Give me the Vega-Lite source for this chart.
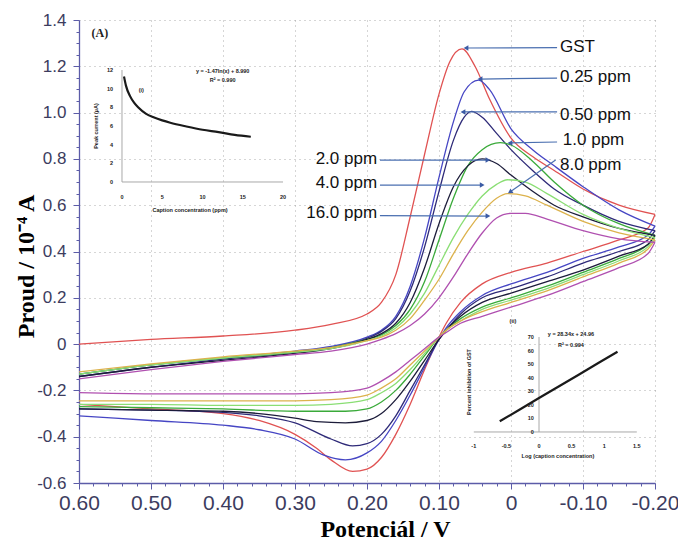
{
"$schema": "https://vega.github.io/schema/vega-lite/v6.json",
"width": 576, "height": 463,
"autosize": {"type": "none"},
"padding": {"left": 79, "top": 20, "right": 23, "bottom": 61},
"background": "white",
"config": {"view": {"stroke": null}, "font": "Liberation Sans"},
"datasets": {
"cv": [
{"s":"GST","b":"f","v":0.6,"i":0.0},{"s":"GST","b":"f","v":0.5,"i":0.02},{"s":"GST","b":"f","v":0.4,"i":0.035},{"s":"GST","b":"f","v":0.3,"i":0.06},{"s":"GST","b":"f","v":0.25,"i":0.085},{"s":"GST","b":"f","v":0.2,"i":0.13},{"s":"GST","b":"f","v":0.18,"i":0.18},{"s":"GST","b":"f","v":0.16,"i":0.3},{"s":"GST","b":"f","v":0.14,"i":0.55},{"s":"GST","b":"f","v":0.12,"i":0.82},{"s":"GST","b":"f","v":0.1,"i":1.08},{"s":"GST","b":"f","v":0.085,"i":1.22},{"s":"GST","b":"f","v":0.068,"i":1.275},{"s":"GST","b":"f","v":0.05,"i":1.2},{"s":"GST","b":"f","v":0.03,"i":1.06},{"s":"GST","b":"f","v":0.0,"i":0.89},{"s":"GST","b":"f","v":-0.03,"i":0.81},{"s":"GST","b":"f","v":-0.06,"i":0.75},{"s":"GST","b":"f","v":-0.1,"i":0.67},{"s":"GST","b":"f","v":-0.15,"i":0.6},{"s":"GST","b":"f","v":-0.2,"i":0.56},
{"s":"GST","b":"r","v":-0.2,"i":0.56},{"s":"GST","b":"r","v":-0.19,"i":0.5},{"s":"GST","b":"r","v":-0.15,"i":0.45},{"s":"GST","b":"r","v":-0.1,"i":0.4},{"s":"GST","b":"r","v":-0.05,"i":0.35},{"s":"GST","b":"r","v":0.0,"i":0.31},{"s":"GST","b":"r","v":0.04,"i":0.26},{"s":"GST","b":"r","v":0.07,"i":0.18},{"s":"GST","b":"r","v":0.09,"i":0.09},{"s":"GST","b":"r","v":0.1,"i":0.03},{"s":"GST","b":"r","v":0.12,"i":-0.11},{"s":"GST","b":"r","v":0.14,"i":-0.26},{"s":"GST","b":"r","v":0.16,"i":-0.39},{"s":"GST","b":"r","v":0.18,"i":-0.49},{"s":"GST","b":"r","v":0.2,"i":-0.54},{"s":"GST","b":"r","v":0.22,"i":-0.55},{"s":"GST","b":"r","v":0.25,"i":-0.5},{"s":"GST","b":"r","v":0.27,"i":-0.45},{"s":"GST","b":"r","v":0.3,"i":-0.39},{"s":"GST","b":"r","v":0.35,"i":-0.33},{"s":"GST","b":"r","v":0.4,"i":-0.3},{"s":"GST","b":"r","v":0.5,"i":-0.28},{"s":"GST","b":"r","v":0.6,"i":-0.26},
{"s":"0.25","b":"f","v":0.6,"i":-0.13},{"s":"0.25","b":"f","v":0.5,"i":-0.09},{"s":"0.25","b":"f","v":0.4,"i":-0.06},{"s":"0.25","b":"f","v":0.3,"i":-0.03},{"s":"0.25","b":"f","v":0.25,"i":-0.01},{"s":"0.25","b":"f","v":0.2,"i":0.03},{"s":"0.25","b":"f","v":0.18,"i":0.06},{"s":"0.25","b":"f","v":0.16,"i":0.12},{"s":"0.25","b":"f","v":0.14,"i":0.25},{"s":"0.25","b":"f","v":0.12,"i":0.46},{"s":"0.25","b":"f","v":0.1,"i":0.72},{"s":"0.25","b":"f","v":0.08,"i":0.96},{"s":"0.25","b":"f","v":0.065,"i":1.09},{"s":"0.25","b":"f","v":0.045,"i":1.14},{"s":"0.25","b":"f","v":0.03,"i":1.1},{"s":"0.25","b":"f","v":0.0,"i":0.93},{"s":"0.25","b":"f","v":-0.03,"i":0.84},{"s":"0.25","b":"f","v":-0.06,"i":0.77},{"s":"0.25","b":"f","v":-0.1,"i":0.68},{"s":"0.25","b":"f","v":-0.15,"i":0.58},{"s":"0.25","b":"f","v":-0.2,"i":0.51},
{"s":"0.25","b":"r","v":-0.2,"i":0.51},{"s":"0.25","b":"r","v":-0.19,"i":0.47},{"s":"0.25","b":"r","v":-0.15,"i":0.42},{"s":"0.25","b":"r","v":-0.1,"i":0.37},{"s":"0.25","b":"r","v":-0.05,"i":0.31},{"s":"0.25","b":"r","v":0.0,"i":0.26},{"s":"0.25","b":"r","v":0.04,"i":0.21},{"s":"0.25","b":"r","v":0.07,"i":0.14},{"s":"0.25","b":"r","v":0.09,"i":0.07},{"s":"0.25","b":"r","v":0.1,"i":0.02},{"s":"0.25","b":"r","v":0.12,"i":-0.1},{"s":"0.25","b":"r","v":0.14,"i":-0.22},{"s":"0.25","b":"r","v":0.16,"i":-0.33},{"s":"0.25","b":"r","v":0.18,"i":-0.42},{"s":"0.25","b":"r","v":0.2,"i":-0.47},{"s":"0.25","b":"r","v":0.23,"i":-0.5},{"s":"0.25","b":"r","v":0.26,"i":-0.48},{"s":"0.25","b":"r","v":0.3,"i":-0.41},{"s":"0.25","b":"r","v":0.35,"i":-0.37},{"s":"0.25","b":"r","v":0.4,"i":-0.35},{"s":"0.25","b":"r","v":0.5,"i":-0.33},{"s":"0.25","b":"r","v":0.6,"i":-0.31},
{"s":"0.50","b":"f","v":0.6,"i":-0.14},{"s":"0.50","b":"f","v":0.5,"i":-0.1},{"s":"0.50","b":"f","v":0.4,"i":-0.065},{"s":"0.50","b":"f","v":0.3,"i":-0.035},{"s":"0.50","b":"f","v":0.25,"i":-0.015},{"s":"0.50","b":"f","v":0.2,"i":0.025},{"s":"0.50","b":"f","v":0.18,"i":0.055},{"s":"0.50","b":"f","v":0.16,"i":0.11},{"s":"0.50","b":"f","v":0.14,"i":0.23},{"s":"0.50","b":"f","v":0.12,"i":0.42},{"s":"0.50","b":"f","v":0.1,"i":0.66},{"s":"0.50","b":"f","v":0.08,"i":0.88},{"s":"0.50","b":"f","v":0.065,"i":0.98},{"s":"0.50","b":"f","v":0.055,"i":1.005},{"s":"0.50","b":"f","v":0.04,"i":0.98},{"s":"0.50","b":"f","v":0.02,"i":0.91},{"s":"0.50","b":"f","v":0.0,"i":0.84},{"s":"0.50","b":"f","v":-0.03,"i":0.75},{"s":"0.50","b":"f","v":-0.06,"i":0.67},{"s":"0.50","b":"f","v":-0.1,"i":0.6},{"s":"0.50","b":"f","v":-0.15,"i":0.53},{"s":"0.50","b":"f","v":-0.2,"i":0.49},
{"s":"0.50","b":"r","v":-0.2,"i":0.49},{"s":"0.50","b":"r","v":-0.19,"i":0.45},{"s":"0.50","b":"r","v":-0.15,"i":0.4},{"s":"0.50","b":"r","v":-0.1,"i":0.35},{"s":"0.50","b":"r","v":-0.05,"i":0.29},{"s":"0.50","b":"r","v":0.0,"i":0.24},{"s":"0.50","b":"r","v":0.04,"i":0.2},{"s":"0.50","b":"r","v":0.07,"i":0.13},{"s":"0.50","b":"r","v":0.09,"i":0.06},{"s":"0.50","b":"r","v":0.1,"i":0.02},{"s":"0.50","b":"r","v":0.12,"i":-0.09},{"s":"0.50","b":"r","v":0.14,"i":-0.2},{"s":"0.50","b":"r","v":0.16,"i":-0.31},{"s":"0.50","b":"r","v":0.18,"i":-0.39},{"s":"0.50","b":"r","v":0.2,"i":-0.43},{"s":"0.50","b":"r","v":0.22,"i":-0.44},{"s":"0.50","b":"r","v":0.25,"i":-0.41},{"s":"0.50","b":"r","v":0.3,"i":-0.34},{"s":"0.50","b":"r","v":0.35,"i":-0.31},{"s":"0.50","b":"r","v":0.4,"i":-0.295},{"s":"0.50","b":"r","v":0.5,"i":-0.285},{"s":"0.50","b":"r","v":0.6,"i":-0.28},
{"s":"1.0","b":"f","v":0.6,"i":-0.13},{"s":"1.0","b":"f","v":0.5,"i":-0.09},{"s":"1.0","b":"f","v":0.4,"i":-0.06},{"s":"1.0","b":"f","v":0.3,"i":-0.035},{"s":"1.0","b":"f","v":0.25,"i":-0.015},{"s":"1.0","b":"f","v":0.2,"i":0.02},{"s":"1.0","b":"f","v":0.18,"i":0.04},{"s":"1.0","b":"f","v":0.16,"i":0.08},{"s":"1.0","b":"f","v":0.14,"i":0.15},{"s":"1.0","b":"f","v":0.12,"i":0.27},{"s":"1.0","b":"f","v":0.1,"i":0.45},{"s":"1.0","b":"f","v":0.08,"i":0.63},{"s":"1.0","b":"f","v":0.06,"i":0.77},{"s":"1.0","b":"f","v":0.04,"i":0.84},{"s":"1.0","b":"f","v":0.015,"i":0.87},{"s":"1.0","b":"f","v":0.0,"i":0.86},{"s":"1.0","b":"f","v":-0.03,"i":0.79},{"s":"1.0","b":"f","v":-0.06,"i":0.7},{"s":"1.0","b":"f","v":-0.1,"i":0.6},{"s":"1.0","b":"f","v":-0.15,"i":0.52},{"s":"1.0","b":"f","v":-0.2,"i":0.47},
{"s":"1.0","b":"r","v":-0.2,"i":0.47},{"s":"1.0","b":"r","v":-0.19,"i":0.43},{"s":"1.0","b":"r","v":-0.15,"i":0.37},{"s":"1.0","b":"r","v":-0.1,"i":0.31},{"s":"1.0","b":"r","v":-0.05,"i":0.25},{"s":"1.0","b":"r","v":0.0,"i":0.2},{"s":"1.0","b":"r","v":0.04,"i":0.16},{"s":"1.0","b":"r","v":0.07,"i":0.11},{"s":"1.0","b":"r","v":0.09,"i":0.06},{"s":"1.0","b":"r","v":0.1,"i":0.03},{"s":"1.0","b":"r","v":0.12,"i":-0.05},{"s":"1.0","b":"r","v":0.14,"i":-0.13},{"s":"1.0","b":"r","v":0.16,"i":-0.2},{"s":"1.0","b":"r","v":0.18,"i":-0.25},{"s":"1.0","b":"r","v":0.2,"i":-0.28},{"s":"1.0","b":"r","v":0.23,"i":-0.29},{"s":"1.0","b":"r","v":0.3,"i":-0.29},{"s":"1.0","b":"r","v":0.4,"i":-0.28},{"s":"1.0","b":"r","v":0.5,"i":-0.275},{"s":"1.0","b":"r","v":0.6,"i":-0.27},
{"s":"2.0","b":"f","v":0.6,"i":-0.14},{"s":"2.0","b":"f","v":0.5,"i":-0.1},{"s":"2.0","b":"f","v":0.4,"i":-0.07},{"s":"2.0","b":"f","v":0.3,"i":-0.04},{"s":"2.0","b":"f","v":0.25,"i":-0.02},{"s":"2.0","b":"f","v":0.2,"i":0.02},{"s":"2.0","b":"f","v":0.18,"i":0.045},{"s":"2.0","b":"f","v":0.16,"i":0.09},{"s":"2.0","b":"f","v":0.14,"i":0.18},{"s":"2.0","b":"f","v":0.12,"i":0.33},{"s":"2.0","b":"f","v":0.1,"i":0.52},{"s":"2.0","b":"f","v":0.08,"i":0.68},{"s":"2.0","b":"f","v":0.06,"i":0.77},{"s":"2.0","b":"f","v":0.04,"i":0.8},{"s":"2.0","b":"f","v":0.02,"i":0.78},{"s":"2.0","b":"f","v":0.0,"i":0.73},{"s":"2.0","b":"f","v":-0.03,"i":0.66},{"s":"2.0","b":"f","v":-0.06,"i":0.6},{"s":"2.0","b":"f","v":-0.1,"i":0.55},{"s":"2.0","b":"f","v":-0.15,"i":0.5},{"s":"2.0","b":"f","v":-0.2,"i":0.47},
{"s":"2.0","b":"r","v":-0.2,"i":0.47},{"s":"2.0","b":"r","v":-0.19,"i":0.43},{"s":"2.0","b":"r","v":-0.15,"i":0.38},{"s":"2.0","b":"r","v":-0.1,"i":0.32},{"s":"2.0","b":"r","v":-0.05,"i":0.27},{"s":"2.0","b":"r","v":0.0,"i":0.22},{"s":"2.0","b":"r","v":0.04,"i":0.18},{"s":"2.0","b":"r","v":0.07,"i":0.12},{"s":"2.0","b":"r","v":0.09,"i":0.06},{"s":"2.0","b":"r","v":0.1,"i":0.02},{"s":"2.0","b":"r","v":0.12,"i":-0.07},{"s":"2.0","b":"r","v":0.14,"i":-0.16},{"s":"2.0","b":"r","v":0.16,"i":-0.24},{"s":"2.0","b":"r","v":0.18,"i":-0.3},{"s":"2.0","b":"r","v":0.2,"i":-0.33},{"s":"2.0","b":"r","v":0.23,"i":-0.34},{"s":"2.0","b":"r","v":0.27,"i":-0.335},{"s":"2.0","b":"r","v":0.3,"i":-0.32},{"s":"2.0","b":"r","v":0.35,"i":-0.3},{"s":"2.0","b":"r","v":0.4,"i":-0.29},{"s":"2.0","b":"r","v":0.5,"i":-0.285},{"s":"2.0","b":"r","v":0.6,"i":-0.28},
{"s":"4.0","b":"f","v":0.6,"i":-0.13},{"s":"4.0","b":"f","v":0.5,"i":-0.09},{"s":"4.0","b":"f","v":0.4,"i":-0.06},{"s":"4.0","b":"f","v":0.3,"i":-0.035},{"s":"4.0","b":"f","v":0.25,"i":-0.02},{"s":"4.0","b":"f","v":0.2,"i":0.015},{"s":"4.0","b":"f","v":0.18,"i":0.035},{"s":"4.0","b":"f","v":0.16,"i":0.07},{"s":"4.0","b":"f","v":0.14,"i":0.13},{"s":"4.0","b":"f","v":0.12,"i":0.22},{"s":"4.0","b":"f","v":0.1,"i":0.34},{"s":"4.0","b":"f","v":0.08,"i":0.46},{"s":"4.0","b":"f","v":0.06,"i":0.56},{"s":"4.0","b":"f","v":0.04,"i":0.64},{"s":"4.0","b":"f","v":0.02,"i":0.69},{"s":"4.0","b":"f","v":0.005,"i":0.71},{"s":"4.0","b":"f","v":-0.02,"i":0.7},{"s":"4.0","b":"f","v":-0.05,"i":0.65},{"s":"4.0","b":"f","v":-0.1,"i":0.56},{"s":"4.0","b":"f","v":-0.15,"i":0.5},{"s":"4.0","b":"f","v":-0.2,"i":0.46},
{"s":"4.0","b":"r","v":-0.2,"i":0.46},{"s":"4.0","b":"r","v":-0.19,"i":0.42},{"s":"4.0","b":"r","v":-0.15,"i":0.36},{"s":"4.0","b":"r","v":-0.1,"i":0.3},{"s":"4.0","b":"r","v":-0.05,"i":0.24},{"s":"4.0","b":"r","v":0.0,"i":0.19},{"s":"4.0","b":"r","v":0.04,"i":0.15},{"s":"4.0","b":"r","v":0.07,"i":0.1},{"s":"4.0","b":"r","v":0.09,"i":0.06},{"s":"4.0","b":"r","v":0.1,"i":0.03},{"s":"4.0","b":"r","v":0.12,"i":-0.04},{"s":"4.0","b":"r","v":0.14,"i":-0.11},{"s":"4.0","b":"r","v":0.16,"i":-0.17},{"s":"4.0","b":"r","v":0.18,"i":-0.21},{"s":"4.0","b":"r","v":0.2,"i":-0.24},{"s":"4.0","b":"r","v":0.25,"i":-0.26},{"s":"4.0","b":"r","v":0.3,"i":-0.265},{"s":"4.0","b":"r","v":0.4,"i":-0.265},{"s":"4.0","b":"r","v":0.5,"i":-0.26},{"s":"4.0","b":"r","v":0.6,"i":-0.26},
{"s":"8.0","b":"f","v":0.6,"i":-0.12},{"s":"8.0","b":"f","v":0.5,"i":-0.085},{"s":"8.0","b":"f","v":0.4,"i":-0.055},{"s":"8.0","b":"f","v":0.3,"i":-0.03},{"s":"8.0","b":"f","v":0.25,"i":-0.015},{"s":"8.0","b":"f","v":0.2,"i":0.015},{"s":"8.0","b":"f","v":0.18,"i":0.03},{"s":"8.0","b":"f","v":0.16,"i":0.06},{"s":"8.0","b":"f","v":0.14,"i":0.11},{"s":"8.0","b":"f","v":0.12,"i":0.19},{"s":"8.0","b":"f","v":0.1,"i":0.28},{"s":"8.0","b":"f","v":0.08,"i":0.39},{"s":"8.0","b":"f","v":0.06,"i":0.49},{"s":"8.0","b":"f","v":0.04,"i":0.57},{"s":"8.0","b":"f","v":0.02,"i":0.63},{"s":"8.0","b":"f","v":0.005,"i":0.65},{"s":"8.0","b":"f","v":-0.02,"i":0.64},{"s":"8.0","b":"f","v":-0.05,"i":0.6},{"s":"8.0","b":"f","v":-0.1,"i":0.53},{"s":"8.0","b":"f","v":-0.15,"i":0.48},{"s":"8.0","b":"f","v":-0.2,"i":0.45},
{"s":"8.0","b":"r","v":-0.2,"i":0.45},{"s":"8.0","b":"r","v":-0.19,"i":0.41},{"s":"8.0","b":"r","v":-0.15,"i":0.35},{"s":"8.0","b":"r","v":-0.1,"i":0.29},{"s":"8.0","b":"r","v":-0.05,"i":0.23},{"s":"8.0","b":"r","v":0.0,"i":0.18},{"s":"8.0","b":"r","v":0.04,"i":0.14},{"s":"8.0","b":"r","v":0.07,"i":0.1},{"s":"8.0","b":"r","v":0.09,"i":0.06},{"s":"8.0","b":"r","v":0.1,"i":0.03},{"s":"8.0","b":"r","v":0.12,"i":-0.03},{"s":"8.0","b":"r","v":0.14,"i":-0.09},{"s":"8.0","b":"r","v":0.16,"i":-0.15},{"s":"8.0","b":"r","v":0.18,"i":-0.19},{"s":"8.0","b":"r","v":0.2,"i":-0.22},{"s":"8.0","b":"r","v":0.25,"i":-0.24},{"s":"8.0","b":"r","v":0.3,"i":-0.245},{"s":"8.0","b":"r","v":0.4,"i":-0.245},{"s":"8.0","b":"r","v":0.5,"i":-0.245},{"s":"8.0","b":"r","v":0.6,"i":-0.245},
{"s":"16.0","b":"f","v":0.6,"i":-0.15},{"s":"16.0","b":"f","v":0.5,"i":-0.11},{"s":"16.0","b":"f","v":0.4,"i":-0.075},{"s":"16.0","b":"f","v":0.3,"i":-0.045},{"s":"16.0","b":"f","v":0.25,"i":-0.03},{"s":"16.0","b":"f","v":0.2,"i":0.0},{"s":"16.0","b":"f","v":0.18,"i":0.02},{"s":"16.0","b":"f","v":0.16,"i":0.045},{"s":"16.0","b":"f","v":0.14,"i":0.08},{"s":"16.0","b":"f","v":0.12,"i":0.13},{"s":"16.0","b":"f","v":0.1,"i":0.2},{"s":"16.0","b":"f","v":0.08,"i":0.29},{"s":"16.0","b":"f","v":0.06,"i":0.39},{"s":"16.0","b":"f","v":0.04,"i":0.48},{"s":"16.0","b":"f","v":0.02,"i":0.545},{"s":"16.0","b":"f","v":0.0,"i":0.565},{"s":"16.0","b":"f","v":-0.02,"i":0.565},{"s":"16.0","b":"f","v":-0.05,"i":0.54},{"s":"16.0","b":"f","v":-0.1,"i":0.49},{"s":"16.0","b":"f","v":-0.15,"i":0.455},{"s":"16.0","b":"f","v":-0.2,"i":0.44},
{"s":"16.0","b":"r","v":-0.2,"i":0.44},{"s":"16.0","b":"r","v":-0.19,"i":0.39},{"s":"16.0","b":"r","v":-0.15,"i":0.33},{"s":"16.0","b":"r","v":-0.1,"i":0.27},{"s":"16.0","b":"r","v":-0.05,"i":0.21},{"s":"16.0","b":"r","v":0.0,"i":0.16},{"s":"16.0","b":"r","v":0.04,"i":0.12},{"s":"16.0","b":"r","v":0.07,"i":0.09},{"s":"16.0","b":"r","v":0.09,"i":0.05},{"s":"16.0","b":"r","v":0.1,"i":0.03},{"s":"16.0","b":"r","v":0.12,"i":-0.02},{"s":"16.0","b":"r","v":0.14,"i":-0.07},{"s":"16.0","b":"r","v":0.16,"i":-0.12},{"s":"16.0","b":"r","v":0.18,"i":-0.16},{"s":"16.0","b":"r","v":0.2,"i":-0.19},{"s":"16.0","b":"r","v":0.25,"i":-0.21},{"s":"16.0","b":"r","v":0.3,"i":-0.215},{"s":"16.0","b":"r","v":0.4,"i":-0.215},{"s":"16.0","b":"r","v":0.5,"i":-0.215},{"s":"16.0","b":"r","v":0.6,"i":-0.21}
],
"ann": [
{"label":"GST","tx":-0.068,"ty":1.283,"x1":-0.064,"y1":1.281,"x2":0.0625,"y2":1.279},
{"label":"0.25 ppm","tx":-0.068,"ty":1.154,"x1":-0.064,"y1":1.149,"x2":0.043,"y2":1.145},
{"label":"0.50 ppm","tx":-0.068,"ty":0.99,"x1":-0.064,"y1":1.003,"x2":0.0667,"y2":1.003},
{"label":"1.0 ppm","tx":-0.072,"ty":0.882,"x1":-0.064,"y1":0.873,"x2":0.0014,"y2":0.869},
{"label":"8.0 ppm","tx":-0.068,"ty":0.774,"x1":-0.062,"y1":0.795,"x2":0.0014,"y2":0.657},
{"label":"2.0 ppm","tx":0.186,"ty":0.8,"x1":0.182,"y1":0.795,"x2":0.032,"y2":0.795},
{"label":"4.0 ppm","tx":0.186,"ty":0.696,"x1":0.182,"y1":0.687,"x2":0.04,"y2":0.687},
{"label":"16.0 ppm","tx":0.186,"ty":0.566,"x1":0.182,"y1":0.555,"x2":0.032,"y2":0.553}
],
"i_curve": [{"c":0.25,"p":11.3},{"c":0.5,"p":10.3},{"c":1,"p":9.2},{"c":1.5,"p":8.5},{"c":2,"p":8.0},{"c":3,"p":7.3},{"c":4,"p":6.9},{"c":5,"p":6.6},{"c":6,"p":6.35},{"c":8,"p":5.95},{"c":10,"p":5.6},{"c":12,"p":5.35},{"c":14,"p":5.05},{"c":16,"p":4.85}],
"ii_line": [{"lc":-0.602,"pi":7.9},{"lc":-0.301,"pi":16.4},{"lc":0,"pi":25.0},{"lc":0.301,"pi":33.5},{"lc":0.602,"pi":42.0},{"lc":0.903,"pi":50.6},{"lc":1.204,"pi":59.1}]
},
"resolve": {"scale": {"x": "independent", "y": "independent"}},
"layer": [
{
 "data": {"name": "cv"},
 "mark": {"type": "line", "strokeWidth": 1.3, "interpolate": "monotone"},
 "encoding": {
  "x": {"field": "v", "type": "quantitative", "scale": {"domain": [-0.2, 0.6], "reverse": true, "nice": false, "zero": false},
   "axis": {"orient": "bottom", "values": [-0.2,-0.18,-0.16,-0.14,-0.12,-0.1,-0.08,-0.06,-0.04,-0.02,0,0.02,0.04,0.06,0.08,0.1,0.12,0.14,0.16,0.18,0.2,0.22,0.24,0.26,0.28,0.3,0.32,0.34,0.36,0.38,0.4,0.42,0.44,0.46,0.48,0.5,0.52,0.54,0.56,0.58,0.6],
    "labelExpr": "abs(datum.value*10-round(datum.value*10))<0.001 ? (abs(datum.value)<0.001 ? '0' : (datum.value<0 ? '-'+format(-datum.value,'.2f') : format(datum.value,'.2f'))) : ''",
    "labelFont": "Liberation Sans", "labelFontSize": 21, "labelColor": "#3c3c5e", "labelPadding": 3, "labelFlush": false, "labelOverlap": false,
    "tickSize": {"condition": {"test": "abs(datum.value*10-round(datum.value*10))<0.001", "value": 6}, "value": 3},
    "tickColor": "#5c5ca8", "domainColor": "#5c5ca8", "domainWidth": 1.3,
    "grid": true, "gridColor": "#9a9a9a", "gridDash": [1, 4],
    "gridOpacity": {"condition": {"test": "abs(datum.value*10-round(datum.value*10))<0.001", "value": 0.8}, "value": 0},
    "title": "Potenciál / V", "titleFont": "Liberation Serif", "titleFontSize": 24, "titleFontWeight": "bold", "titleColor": "#000000",
    "titleX": 306, "titleY": 46, "titleBaseline": "middle", "titleAlign": "center"}},
  "y": {"field": "i", "type": "quantitative", "scale": {"domain": [-0.6, 1.4], "nice": false, "zero": false},
   "axis": {"orient": "left", "values": [-0.6,-0.55,-0.5,-0.45,-0.4,-0.35,-0.3,-0.25,-0.2,-0.15,-0.1,-0.05,0,0.05,0.1,0.15,0.2,0.25,0.3,0.35,0.4,0.45,0.5,0.55,0.6,0.65,0.7,0.75,0.8,0.85,0.9,0.95,1,1.05,1.1,1.15,1.2,1.25,1.3,1.35,1.4],
    "labelExpr": "abs(datum.value*5-round(datum.value*5))<0.001 ? (abs(datum.value)<0.001 ? '0' : (datum.value<0 ? '-'+format(-datum.value,'.1f') : format(datum.value,'.1f'))) : ''",
    "labelFont": "Liberation Sans", "labelFontSize": 17, "labelColor": "#3c3c5e", "labelPadding": 7, "labelFlush": false, "labelOverlap": false,
    "tickSize": {"condition": {"test": "abs(datum.value*5-round(datum.value*5))<0.001", "value": 6}, "value": 3},
    "tickColor": "#5c5ca8", "domainColor": "#5c5ca8", "domainWidth": 1.3,
    "grid": true, "gridColor": "#9a9a9a", "gridDash": [1, 4],
    "gridOpacity": {"condition": {"test": "abs(datum.value*5-round(datum.value*5))<0.001", "value": 0.8}, "value": 0},
    "title": "Proud / 10⁻⁴ A", "titleFont": "Liberation Serif", "titleFontSize": 24, "titleFontWeight": "bold", "titleColor": "#000000",
    "titleX": -53, "titleY": 246, "titleBaseline": "middle", "titleAlign": "center", "titleAngle": 270}},
  "color": {"field": "s", "type": "nominal", "legend": null,
   "scale": {"domain": ["GST","0.25","0.50","1.0","2.0","4.0","8.0","16.0"], "range": ["#e05252","#4646c4","#2e2a78","#3aaa3a","#1c1c3a","#8ade74","#dcb24c","#b050b0"]}},
  "detail": {"field": "b", "type": "nominal"}
 }
},
{
 "data": {"name": "ann"},
 "layer": [
  {"mark": {"type": "rule", "color": "#4a6fb0", "strokeWidth": 1.2},
   "encoding": {
    "x": {"field": "x1", "type": "quantitative", "scale": {"domain": [-0.2, 0.6], "reverse": true, "nice": false, "zero": false},
     "axis": {"orient": "top", "title": null, "labels": false, "grid": false, "values": [-0.2,-0.18,-0.16,-0.14,-0.12,-0.1,-0.08,-0.06,-0.04,-0.02,0,0.02,0.04,0.06,0.08,0.1,0.12,0.14,0.16,0.18,0.2,0.22,0.24,0.26,0.28,0.3,0.32,0.34,0.36,0.38,0.4,0.42,0.44,0.46,0.48,0.5,0.52,0.54,0.56,0.58,0.6],
      "tickSize": {"condition": {"test": "abs(datum.value*10-round(datum.value*10))<0.001", "value": -5}, "value": -3},
      "tickColor": "#5c5ca8", "domainColor": "#5c5ca8", "domainWidth": 1.3}},
    "y": {"field": "y1", "type": "quantitative", "scale": {"domain": [-0.6, 1.4], "nice": false, "zero": false},
     "axis": {"orient": "right", "title": null, "labels": false, "grid": false, "values": [-0.6,-0.55,-0.5,-0.45,-0.4,-0.35,-0.3,-0.25,-0.2,-0.15,-0.1,-0.05,0,0.05,0.1,0.15,0.2,0.25,0.3,0.35,0.4,0.45,0.5,0.55,0.6,0.65,0.7,0.75,0.8,0.85,0.9,0.95,1,1.05,1.1,1.15,1.2,1.25,1.3,1.35,1.4],
      "tickSize": {"condition": {"test": "abs(datum.value*5-round(datum.value*5))<0.001", "value": -5}, "value": -3},
      "tickColor": "#5c5ca8", "domainColor": "#5c5ca8", "domainWidth": 1.3}},
    "x2": {"field": "x2"}, "y2": {"field": "y2"}}},
  {"transform": [{"filter": {"field": "label", "oneOf": ["GST","0.25 ppm","0.50 ppm","1.0 ppm"]}}],
   "mark": {"type": "point", "shape": "triangle-left", "filled": true, "size": 30, "color": "#3b5ba5", "opacity": 1},
   "encoding": {"x": {"field": "x2", "type": "quantitative", "axis": null}, "y": {"field": "y2", "type": "quantitative", "axis": null}}},
  {"transform": [{"filter": {"field": "label", "oneOf": ["2.0 ppm","4.0 ppm","16.0 ppm"]}}],
   "mark": {"type": "point", "shape": "triangle-right", "filled": true, "size": 30, "color": "#3b5ba5", "opacity": 1},
   "encoding": {"x": {"field": "x2", "type": "quantitative", "axis": null}, "y": {"field": "y2", "type": "quantitative", "axis": null}}},
  {"transform": [{"filter": {"field": "label", "oneOf": ["8.0 ppm"]}}],
   "mark": {"type": "point", "shape": "triangle-up", "angle": 236, "filled": true, "size": 30, "color": "#3b5ba5", "opacity": 1},
   "encoding": {"x": {"field": "x2", "type": "quantitative", "axis": null}, "y": {"field": "y2", "type": "quantitative", "axis": null}}},
  {"transform": [{"filter": {"field": "label", "oneOf": ["GST","0.25 ppm","0.50 ppm","1.0 ppm","8.0 ppm"]}}],
   "mark": {"type": "text", "align": "left", "baseline": "middle", "font": "Liberation Sans", "fontSize": 17, "color": "#111111"},
   "encoding": {"x": {"field": "tx", "type": "quantitative", "axis": null}, "y": {"field": "ty", "type": "quantitative", "axis": null}, "text": {"field": "label"}}},
  {"transform": [{"filter": {"field": "label", "oneOf": ["2.0 ppm","4.0 ppm","16.0 ppm"]}}],
   "mark": {"type": "text", "align": "right", "baseline": "middle", "font": "Liberation Sans", "fontSize": 17, "color": "#111111"},
   "encoding": {"x": {"field": "tx", "type": "quantitative", "axis": null}, "y": {"field": "ty", "type": "quantitative", "axis": null}, "text": {"field": "label"}}},
  {"data": {"values": [{"t": "(A)", "x": 0.571, "y": 1.344}]},
   "mark": {"type": "text", "align": "center", "baseline": "middle", "font": "Liberation Serif", "fontSize": 12, "fontWeight": "bold", "color": "#222222"},
   "encoding": {"x": {"field": "x", "type": "quantitative", "axis": null}, "y": {"field": "y", "type": "quantitative", "axis": null}, "text": {"field": "t"}}}
 ]
},
{
 "layer": [
  {"data": {"values": [{"x0":0,"y0":0,"x1":20,"y1":0},{"x0":0,"y0":0,"x1":0,"y1":12}]},
   "mark": {"type": "rule", "color": "#a8a8a8", "strokeWidth": 1},
   "encoding": {"x": {"field": "x0", "type": "quantitative", "scale": {"domain": [-5.34, 66.2], "nice": false, "zero": false}, "axis": null},
    "y": {"field": "y0", "type": "quantitative", "scale": {"domain": [-32.26, 17.36], "nice": false, "zero": false}, "axis": null},
    "x2": {"field": "x1"}, "y2": {"field": "y1"}}},
  {"data": {"name": "i_curve"},
   "mark": {"type": "line", "color": "#1a1a1a", "strokeWidth": 2.2, "interpolate": "monotone"},
   "encoding": {"x": {"field": "c", "type": "quantitative", "axis": null}, "y": {"field": "p", "type": "quantitative", "axis": null}}},
  {"data": {"values": [{"t":0},{"t":5},{"t":10},{"t":15},{"t":20}]},
   "mark": {"type": "text", "fontSize": 5.5, "fontWeight": "bold", "color": "#222222", "baseline": "middle", "align": "center"},
   "encoding": {"x": {"field": "t", "type": "quantitative", "axis": null}, "y": {"datum": -1.6, "axis": null}, "text": {"field": "t", "type": "nominal"}}},
  {"data": {"values": [{"t":0},{"t":2},{"t":4},{"t":6},{"t":8},{"t":10},{"t":12}]},
   "mark": {"type": "text", "fontSize": 5.5, "fontWeight": "bold", "color": "#222222", "baseline": "middle", "align": "right"},
   "encoding": {"x": {"datum": -1.1, "axis": null}, "y": {"field": "t", "type": "quantitative", "axis": null}, "text": {"field": "t", "type": "nominal"}}},
  {"data": {"values": [{"x":2.4,"y":9.9,"t":"(i)"},{"x":12.5,"y":11.9,"t":"y = -1.47ln(x) + 8.990"},{"x":12.5,"y":10.9,"t":"R² = 0.990"},{"x":8.45,"y":-3.0,"t":"Caption concentration (ppm)"}]},
   "mark": {"type": "text", "fontSize": 5.5, "fontWeight": "bold", "color": "#222222", "baseline": "middle", "align": "center"},
   "encoding": {"x": {"field": "x", "type": "quantitative", "axis": null}, "y": {"field": "y", "type": "quantitative", "axis": null}, "text": {"field": "t"}}},
  {"data": {"values": [{"x":-3.2,"y":6,"t":"Peak current (µA)"}]},
   "mark": {"type": "text", "fontSize": 5.5, "fontWeight": "bold", "color": "#222222", "baseline": "middle", "align": "center", "angle": 270},
   "encoding": {"x": {"field": "x", "type": "quantitative", "axis": null}, "y": {"field": "y", "type": "quantitative", "axis": null}, "text": {"field": "t"}}}
 ]
},
{
 "layer": [
  {"data": {"values": [{"x0":-1,"y0":0,"x1":1.5,"y1":0},{"x0":0,"y0":0,"x1":0,"y1":70}]},
   "mark": {"type": "rule", "color": "#a8a8a8", "strokeWidth": 1},
   "encoding": {"x": {"field": "x0", "type": "quantitative", "scale": {"domain": [-7.055, 1.779], "nice": false, "zero": false}, "axis": null},
    "y": {"field": "y0", "type": "quantitative", "scale": {"domain": [-37.6, 303.6], "nice": false, "zero": false}, "axis": null},
    "x2": {"field": "x1"}, "y2": {"field": "y1"}}},
  {"data": {"name": "ii_line"},
   "mark": {"type": "line", "color": "#1a1a1a", "strokeWidth": 2.2},
   "encoding": {"x": {"field": "lc", "type": "quantitative", "axis": null}, "y": {"field": "pi", "type": "quantitative", "axis": null}}},
  {"data": {"values": [{"t":-1},{"t":-0.5},{"t":0},{"t":0.5},{"t":1},{"t":1.5}]},
   "mark": {"type": "text", "fontSize": 5.5, "fontWeight": "bold", "color": "#222222", "baseline": "middle", "align": "center"},
   "encoding": {"x": {"field": "t", "type": "quantitative", "axis": null}, "y": {"datum": -10.3, "axis": null}, "text": {"field": "t", "type": "nominal"}}},
  {"data": {"values": [{"t":0},{"t":10},{"t":20},{"t":30},{"t":40},{"t":50},{"t":60},{"t":70}]},
   "mark": {"type": "text", "fontSize": 5.5, "fontWeight": "bold", "color": "#222222", "baseline": "middle", "align": "right"},
   "encoding": {"x": {"datum": -0.08, "axis": null}, "y": {"field": "t", "type": "quantitative", "axis": null}, "text": {"field": "t", "type": "nominal"}}},
  {"data": {"values": [{"x":-0.4,"y":81.8,"t":"(ii)"},{"x":0.49,"y":72.2,"t":"y = 28.34x + 24.96"},{"x":0.49,"y":64.1,"t":"R² = 0.994"},{"x":0.29,"y":-17.7,"t":"Log (caption concentration)"}]},
   "mark": {"type": "text", "fontSize": 5.5, "fontWeight": "bold", "color": "#222222", "baseline": "middle", "align": "center"},
   "encoding": {"x": {"field": "x", "type": "quantitative", "axis": null}, "y": {"field": "y", "type": "quantitative", "axis": null}, "text": {"field": "t"}}},
  {"data": {"values": [{"x":-1.08,"y":36.8,"t":"Percent inhibition of GST"}]},
   "mark": {"type": "text", "fontSize": 5.5, "fontWeight": "bold", "color": "#222222", "baseline": "middle", "align": "center", "angle": 270},
   "encoding": {"x": {"field": "x", "type": "quantitative", "axis": null}, "y": {"field": "y", "type": "quantitative", "axis": null}, "text": {"field": "t"}}}
 ]
}
]
}
